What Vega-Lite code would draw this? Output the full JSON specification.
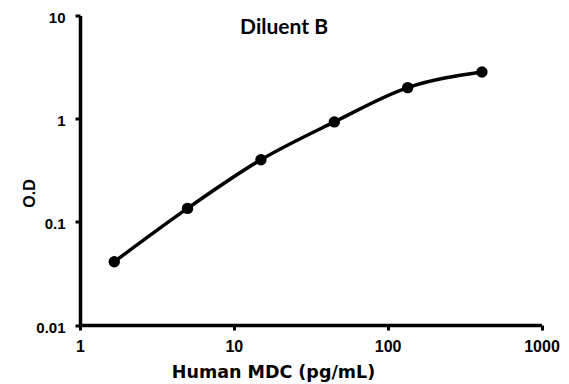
{
  "$schema": "https://vega.github.io/schema/vega-lite/v6.json",
  "autosize": "none",
  "padding": {"left": 80, "top": 15.5, "right": 27.5, "bottom": 59},
  "width": 461.5,
  "height": 309.5,
  "background": "white",
  "config": {"view": {"stroke": null}},
  "data": {
    "values": [
      {"conc": 1.67, "od": 0.041},
      {"conc": 5.0, "od": 0.135},
      {"conc": 15, "od": 0.40},
      {"conc": 45, "od": 0.93},
      {"conc": 135, "od": 2.0},
      {"conc": 410, "od": 2.83}
    ]
  },
  "encoding": {
    "x": {
      "field": "conc",
      "type": "quantitative",
      "scale": {"type": "log", "domain": [1, 1000], "nice": false},
      "axis": {
        "title": "Human MDC (pg/mL)",
        "values": [1, 10, 100, 1000],
        "format": "~g",
        "grid": false,
        "domainColor": "black",
        "domainWidth": 3.5,
        "tickColor": "black",
        "tickWidth": 3,
        "tickSize": 5,
        "labelFont": "Liberation Sans",
        "labelFontSize": 16,
        "labelFontWeight": "bold",
        "labelColor": "black",
        "labelBaseline": "alphabetic",
        "labelPadding": 21,
        "labelFlush": false,
        "labelOverlap": false,
        "titleFont": "DejaVu Sans",
        "titleFontSize": 17.5,
        "titleFontWeight": "bold",
        "titleColor": "black",
        "titleX": 193,
        "titleY": 52,
        "titleAlign": "center",
        "titleBaseline": "alphabetic"
      }
    },
    "y": {
      "field": "od",
      "type": "quantitative",
      "scale": {"type": "log", "domain": [0.01, 10], "nice": false},
      "axis": {
        "title": "O.D",
        "values": [0.01, 0.1, 1, 10],
        "format": "~g",
        "grid": false,
        "domainColor": "black",
        "domainWidth": 3.5,
        "tickColor": "black",
        "tickWidth": 3,
        "tickSize": 5,
        "labelFont": "Liberation Sans",
        "labelFontSize": 15,
        "labelFontWeight": "bold",
        "labelColor": "black",
        "labelPadding": 10,
        "labelOffset": 2,
        "labelFlush": false,
        "labelOverlap": false,
        "titleFont": "Liberation Sans",
        "titleFontSize": 16,
        "titleFontWeight": "bold",
        "titleColor": "black",
        "titleAngle": -90,
        "titleX": -46,
        "titleY": 177.5,
        "titleAlign": "center",
        "titleBaseline": "alphabetic"
      }
    }
  },
  "layer": [
    {
      "mark": {"type": "line", "interpolate": "monotone", "color": "black", "strokeWidth": 3.5}
    },
    {
      "mark": {"type": "point", "filled": true, "color": "black", "size": 130, "opacity": 1}
    },
    {
      "data": {"values": [{"conc": 21.2, "od": 6.6, "label": "Diluent B"}]},
      "mark": {"type": "text", "font": "Lato", "fontSize": 21, "fontWeight": "bold", "color": "black", "align": "center", "baseline": "alphabetic"},
      "encoding": {"text": {"field": "label"}}
    }
  ]
}
